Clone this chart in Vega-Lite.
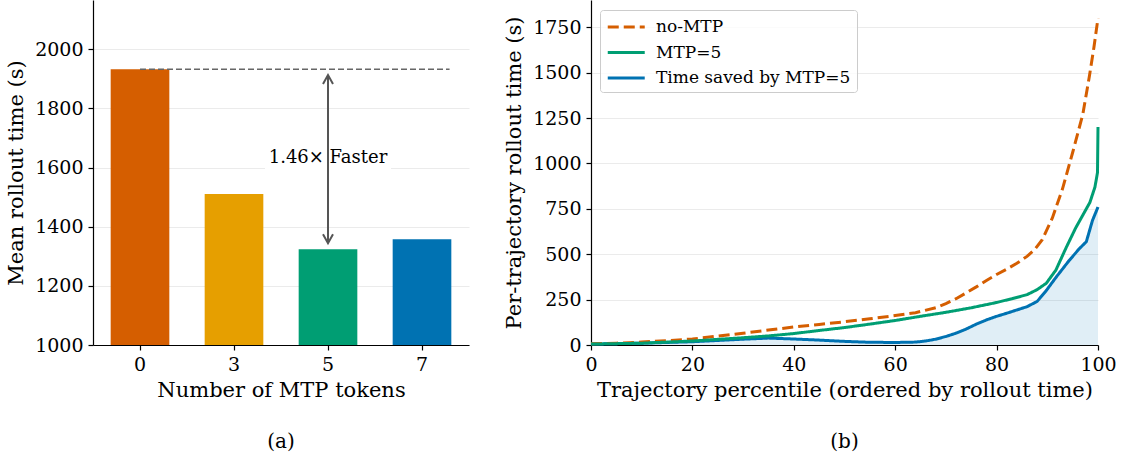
{
  "$schema": "https://vega.github.io/schema/vega-lite/v6.json",
  "padding": {"left": 5, "top": 0, "right": 5, "bottom": 5},
  "background": "white",
  "spacing": 34,
  "resolve": {"scale": {"color": "independent", "strokeDash": "independent", "strokeWidth": "independent", "shape": "independent"}, "legend": {"color": "independent"}},
  "config": {
    "font": "DejaVu Serif",
    "view": {"stroke": null},
    "axis": {
      "domainColor": "black", "domainWidth": 1.2, "tickColor": "black", "tickWidth": 1.2, "tickSize": 5,
      "labelColor": "black", "titleColor": "black", "titleFontWeight": "normal",
      "labelFont": "DejaVu Serif", "titleFont": "DejaVu Serif",
      "gridColor": "#ebebeb", "gridWidth": 1
    },
    "title": {"font": "DejaVu Serif", "fontWeight": "normal", "color": "black"}
  },
  "datasets": {
    "bars": [
      {"tokens": "0", "time": 1933},
      {"tokens": "3", "time": 1511},
      {"tokens": "5", "time": 1324},
      {"tokens": "7", "time": 1358}
    ],
    "ref": [{"tokens": "0", "tokens_end": "7", "time": 1933}],
    "arrow": [{"tokens": "5", "time": 1913, "time_end": 1344}],
    "heads": [{"tokens": "5", "time": 1913, "dir": "up"}, {"tokens": "5", "time": 1344, "dir": "down"}],
    "label": [{"tokens": "5", "time": 1632, "time_low": 1592, "time_high": 1685, "text": "1.46× Faster"}],
    "curves": [
      {"series": "no-MTP", "p": 0, "v": 7}, {"series": "no-MTP", "p": 5, "v": 10}, {"series": "no-MTP", "p": 10, "v": 16},
      {"series": "no-MTP", "p": 15, "v": 24}, {"series": "no-MTP", "p": 20, "v": 33}, {"series": "no-MTP", "p": 25, "v": 49},
      {"series": "no-MTP", "p": 30, "v": 65}, {"series": "no-MTP", "p": 35, "v": 82}, {"series": "no-MTP", "p": 40, "v": 99},
      {"series": "no-MTP", "p": 45, "v": 113}, {"series": "no-MTP", "p": 50, "v": 128}, {"series": "no-MTP", "p": 55, "v": 144},
      {"series": "no-MTP", "p": 60, "v": 162}, {"series": "no-MTP", "p": 64, "v": 178}, {"series": "no-MTP", "p": 68, "v": 205},
      {"series": "no-MTP", "p": 70, "v": 228}, {"series": "no-MTP", "p": 72, "v": 255}, {"series": "no-MTP", "p": 74, "v": 287},
      {"series": "no-MTP", "p": 76, "v": 320}, {"series": "no-MTP", "p": 78, "v": 355}, {"series": "no-MTP", "p": 80, "v": 388},
      {"series": "no-MTP", "p": 82, "v": 418}, {"series": "no-MTP", "p": 84, "v": 450}, {"series": "no-MTP", "p": 86, "v": 488},
      {"series": "no-MTP", "p": 87.5, "v": 525}, {"series": "no-MTP", "p": 89, "v": 580}, {"series": "no-MTP", "p": 91, "v": 700},
      {"series": "no-MTP", "p": 93, "v": 860}, {"series": "no-MTP", "p": 95, "v": 1060}, {"series": "no-MTP", "p": 97, "v": 1270},
      {"series": "no-MTP", "p": 98.3, "v": 1480}, {"series": "no-MTP", "p": 99.2, "v": 1640}, {"series": "no-MTP", "p": 100, "v": 1800},
      {"series": "MTP=5", "p": 0, "v": 5}, {"series": "MTP=5", "p": 10, "v": 10}, {"series": "MTP=5", "p": 20, "v": 22},
      {"series": "MTP=5", "p": 30, "v": 40}, {"series": "MTP=5", "p": 35, "v": 50}, {"series": "MTP=5", "p": 40, "v": 63},
      {"series": "MTP=5", "p": 45, "v": 80}, {"series": "MTP=5", "p": 50, "v": 96}, {"series": "MTP=5", "p": 55, "v": 115},
      {"series": "MTP=5", "p": 60, "v": 135}, {"series": "MTP=5", "p": 65, "v": 158}, {"series": "MTP=5", "p": 70, "v": 180},
      {"series": "MTP=5", "p": 75, "v": 205}, {"series": "MTP=5", "p": 80, "v": 234}, {"series": "MTP=5", "p": 83, "v": 255},
      {"series": "MTP=5", "p": 86, "v": 277}, {"series": "MTP=5", "p": 88, "v": 305}, {"series": "MTP=5", "p": 89.8, "v": 340},
      {"series": "MTP=5", "p": 91.7, "v": 413}, {"series": "MTP=5", "p": 93.7, "v": 535}, {"series": "MTP=5", "p": 95.6, "v": 645},
      {"series": "MTP=5", "p": 97, "v": 715}, {"series": "MTP=5", "p": 98.4, "v": 785}, {"series": "MTP=5", "p": 99.4, "v": 870},
      {"series": "MTP=5", "p": 99.9, "v": 950}, {"series": "MTP=5", "p": 100, "v": 1200},
      {"series": "Time saved by MTP=5", "p": 0, "v": 5}, {"series": "Time saved by MTP=5", "p": 10, "v": 10},
      {"series": "Time saved by MTP=5", "p": 20, "v": 18}, {"series": "Time saved by MTP=5", "p": 25, "v": 25},
      {"series": "Time saved by MTP=5", "p": 30, "v": 32}, {"series": "Time saved by MTP=5", "p": 35, "v": 38},
      {"series": "Time saved by MTP=5", "p": 40, "v": 33}, {"series": "Time saved by MTP=5", "p": 45, "v": 27},
      {"series": "Time saved by MTP=5", "p": 50, "v": 20}, {"series": "Time saved by MTP=5", "p": 55, "v": 15},
      {"series": "Time saved by MTP=5", "p": 60, "v": 14}, {"series": "Time saved by MTP=5", "p": 64, "v": 16},
      {"series": "Time saved by MTP=5", "p": 66, "v": 22}, {"series": "Time saved by MTP=5", "p": 68, "v": 32},
      {"series": "Time saved by MTP=5", "p": 70, "v": 47}, {"series": "Time saved by MTP=5", "p": 72, "v": 65},
      {"series": "Time saved by MTP=5", "p": 74, "v": 88}, {"series": "Time saved by MTP=5", "p": 76, "v": 115},
      {"series": "Time saved by MTP=5", "p": 78, "v": 138}, {"series": "Time saved by MTP=5", "p": 80, "v": 158},
      {"series": "Time saved by MTP=5", "p": 82, "v": 175}, {"series": "Time saved by MTP=5", "p": 84, "v": 193},
      {"series": "Time saved by MTP=5", "p": 86, "v": 211}, {"series": "Time saved by MTP=5", "p": 88, "v": 240},
      {"series": "Time saved by MTP=5", "p": 89.8, "v": 300}, {"series": "Time saved by MTP=5", "p": 91.7, "v": 372},
      {"series": "Time saved by MTP=5", "p": 94.3, "v": 465}, {"series": "Time saved by MTP=5", "p": 96.3, "v": 530},
      {"series": "Time saved by MTP=5", "p": 97.7, "v": 569}, {"series": "Time saved by MTP=5", "p": 98.9, "v": 685},
      {"series": "Time saved by MTP=5", "p": 100, "v": 760}
    ]
  },
  "hconcat": [
    {
      "width": 376,
      "height": 345,
      "title": {"text": "(a)", "orient": "bottom", "fontSize": 20, "offset": 32},
      "encoding": {
        "x": {
          "field": "tokens", "type": "ordinal",
          "scale": {"type": "band", "domain": ["0", "3", "5", "7"], "paddingInner": 0.376, "paddingOuter": 0.188},
          "axis": {"title": "Number of MTP tokens", "labelAngle": 0, "labelFontSize": 19, "titleFontSize": 21, "labelPadding": 5, "titlePadding": 5, "zindex": 1}
        },
        "y": {
          "field": "time", "type": "quantitative",
          "scale": {"domain": [1000, 2167], "nice": false, "zero": false},
          "axis": {"title": "Mean rollout time (s)", "values": [1000, 1200, 1400, 1600, 1800, 2000], "format": "d", "grid": true, "labelFontSize": 19, "titleFontSize": 21, "labelPadding": 5, "titlePadding": 8}
        }
      },
      "layer": [
        {
          "data": {"name": "bars"},
          "mark": {"type": "bar", "clip": true},
          "encoding": {
            "color": {"field": "tokens", "type": "nominal", "scale": {"domain": ["0", "3", "5", "7"], "range": ["#D55E00", "#E69F00", "#009E73", "#0072B2"]}, "legend": null}
          }
        },
        {
          "data": {"name": "ref"},
          "mark": {"type": "rule", "color": "#666666", "strokeWidth": 1.6, "strokeDash": [6, 3]},
          "encoding": {
            "x": {"field": "tokens", "type": "ordinal", "bandPosition": 0.5},
            "x2": {"field": "tokens_end", "bandPosition": 0.97}
          }
        },
        {
          "data": {"name": "label"},
          "mark": {"type": "bar", "color": "white", "width": 126},
          "encoding": {
            "y": {"field": "time_low", "type": "quantitative"},
            "y2": {"field": "time_high"}
          }
        },
        {
          "data": {"name": "arrow"},
          "mark": {"type": "rule", "color": "#555555", "strokeWidth": 2},
          "encoding": {"y2": {"field": "time_end"}}
        },
        {
          "data": {"name": "heads"},
          "mark": {"type": "point", "filled": false, "color": "#555555", "strokeWidth": 2, "size": 100, "opacity": 1},
          "encoding": {
            "shape": {"field": "dir", "type": "nominal", "scale": {"domain": ["up", "down"], "range": ["M-1,1.8L0,0L1,1.8", "M-1,-1.8L0,0L1,-1.8"]}, "legend": null}
          }
        },
        {
          "data": {"name": "label"},
          "mark": {"type": "text", "fontSize": 18, "color": "black", "align": "center", "baseline": "middle", "font": "DejaVu Serif"},
          "encoding": {"text": {"field": "text"}}
        }
      ]
    },
    {
      "width": 507,
      "height": 345,
      "title": {"text": "(b)", "orient": "bottom", "fontSize": 20, "offset": 32},
      "data": {"name": "curves"},
      "encoding": {
        "x": {
          "field": "p", "type": "quantitative",
          "scale": {"domain": [0, 100], "nice": false},
          "axis": {"title": "Trajectory percentile (ordered by rollout time)", "values": [0, 20, 40, 60, 80, 100], "grid": false, "labelFontSize": 19, "titleFontSize": 21, "labelPadding": 5, "titlePadding": 5, "labelFlush": false}
        },
        "y": {
          "field": "v", "type": "quantitative",
          "scale": {"domain": [0, 1900], "nice": false},
          "axis": {"title": "Per-trajectory rollout time (s)", "values": [0, 250, 500, 750, 1000, 1250, 1500, 1750], "format": "d", "grid": true, "labelFontSize": 19, "titleFontSize": 21, "labelPadding": 5, "titlePadding": 8}
        }
      },
      "layer": [
        {
          "transform": [{"filter": "datum.series === 'Time saved by MTP=5'"}],
          "mark": {"type": "area", "color": "#0072B2", "opacity": 0.12}
        },
        {
          "transform": [{"filter": "datum.series === 'Time saved by MTP=5'"}],
          "mark": {"type": "line"},
          "encoding": {
            "color": {"field": "series", "type": "nominal", "scale": {"domain": ["no-MTP", "MTP=5", "Time saved by MTP=5"], "range": ["#D55E00", "#009E73", "#0072B2"]},
              "legend": {"title": null, "orient": "none", "legendX": 9, "legendY": 10, "symbolType": "M-1,0L3,0", "symbolSize": 342, "labelFontSize": 17, "labelFont": "DejaVu Serif", "labelColor": "black", "labelLimit": 400, "labelOffset": 28, "padding": 6, "rowPadding": 6.5, "strokeColor": "#cccccc", "fillColor": "rgba(255,255,255,0.8)", "cornerRadius": 3}},
            "strokeDash": {"field": "series", "type": "nominal", "scale": {"domain": ["no-MTP", "MTP=5", "Time saved by MTP=5"], "range": [[11, 5], [1, 0], [1, 0]]}},
            "strokeWidth": {"field": "series", "type": "nominal", "scale": {"domain": ["no-MTP", "MTP=5", "Time saved by MTP=5"], "range": [3, 3, 2.1]}}
          }
        },
        {
          "transform": [{"filter": "datum.series === 'no-MTP'"}],
          "mark": {"type": "line"},
          "encoding": {
            "color": {"field": "series", "type": "nominal"},
            "strokeDash": {"field": "series", "type": "nominal"},
            "strokeWidth": {"field": "series", "type": "nominal"}
          }
        },
        {
          "transform": [{"filter": "datum.series === 'MTP=5'"}],
          "mark": {"type": "line"},
          "encoding": {
            "color": {"field": "series", "type": "nominal"},
            "strokeDash": {"field": "series", "type": "nominal"},
            "strokeWidth": {"field": "series", "type": "nominal"}
          }
        }
      ]
    }
  ]
}
